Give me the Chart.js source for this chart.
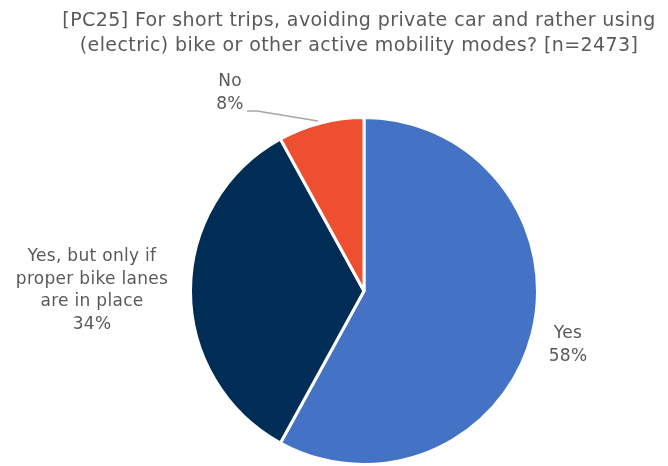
<!DOCTYPE html>
<html>
<head>
<meta charset="utf-8">
<script src="https://cdn.jsdelivr.net/npm/chart.js@4/dist/chart.umd.min.js"></script>
<style>
  html, body { margin: 0; padding: 0; background: #fff; }
  #wrap { width: 668px; height: 466px; }
</style>
</head>
<body>
<div id="wrap"><canvas id="pie"></canvas></div>
<script>
// Survey answers
var categories = ['Yes', 'Yes, but only if proper bike lanes are in place', 'No'];
var labelLines = [['Yes'], ['Yes, but only if', 'proper bike lanes', 'are in place'], ['No']];
var shares = [58, 34, 8];
var sliceColors = ['#4472C4', '#002D56', '#EF4F31'];
var titleLines = [
  '[PC25] For short trips, avoiding private car and rather using',
  '(electric) bike or other active mobility modes? [n=2473]'
];

var FONT = '"DejaVu Sans", sans-serif';
var TEXT = '#595959';

// Label anchors: centre x and baseline of the first line, plus optional leader line
var labelSpots = [
  { x: 568, y: 338 },
  { x: 92, y: 261 },
  { x: 230, y: 86, leader: [[247, 111], [257, 111], [318, 121]] }
];

var labelPlugin = {
  id: 'pieText',
  afterDraw: function (chart) {
    var ctx = chart.ctx;
    ctx.save();
    ctx.fillStyle = TEXT;
    ctx.textAlign = 'center';
    ctx.textBaseline = 'alphabetic';

    // two-line title
    ctx.font = '19px ' + FONT;
    ctx.letterSpacing = '0.4px';
    titleLines.forEach(function (line, i) {
      ctx.fillText(line, 359, 26 + i * 25);
    });

    // category + percentage labels
    ctx.font = '17px ' + FONT;
    ctx.letterSpacing = '0.3px';
    var lh = 22.5;
    labelSpots.forEach(function (spot, i) {
      var lines = labelLines[i].concat([shares[i] + '%']);
      lines.forEach(function (l, j) {
        ctx.fillText(l, spot.x, spot.y + j * lh);
      });
      if (spot.leader) {
        ctx.strokeStyle = '#A6A6A6';
        ctx.lineWidth = 1.3;
        ctx.beginPath();
        spot.leader.forEach(function (p, k) {
          if (k === 0) ctx.moveTo(p[0], p[1]); else ctx.lineTo(p[0], p[1]);
        });
        ctx.stroke();
      }
    });
    ctx.restore();
  }
};

var ctx = document.getElementById('pie').getContext('2d');
new Chart(ctx, {
  type: 'pie',
  data: {
    labels: categories,
    datasets: [{
      data: shares,
      backgroundColor: sliceColors,
      borderColor: '#ffffff',
      borderWidth: 3
    }]
  },
  options: {
    responsive: true,
    maintainAspectRatio: false,
    animation: false,
    layout: { padding: { left: 189, right: 129, top: 116, bottom: 0 } },
    plugins: {
      legend: { display: false },
      tooltip: { enabled: false },
      title: { display: false }
    }
  },
  plugins: [labelPlugin]
});
</script>
</body>
</html>
